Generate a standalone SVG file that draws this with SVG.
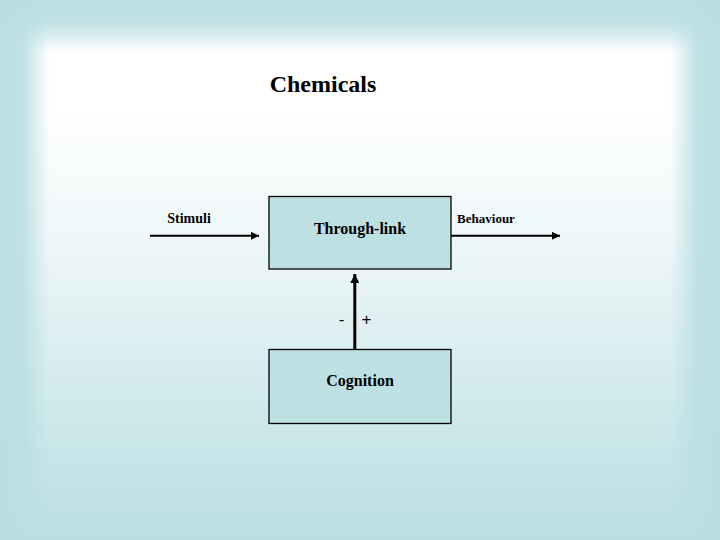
<svg xmlns="http://www.w3.org/2000/svg" width="720" height="540" viewBox="0 0 720 540">
  <defs>
    <linearGradient id="bgV" x1="0" y1="0" x2="0" y2="540" gradientUnits="userSpaceOnUse">
      <stop offset="0" stop-color="#ffffff"/>
      <stop offset="0.2" stop-color="#ffffff"/>
      <stop offset="0.45" stop-color="#eef7f8"/>
      <stop offset="0.8" stop-color="#cbe7ea"/>
      <stop offset="1" stop-color="#badee2"/>
    </linearGradient>
    <linearGradient id="bgL" x1="0" y1="0" x2="50" y2="0" gradientUnits="userSpaceOnUse">
      <stop offset="0" stop-color="#badee2" stop-opacity="1"/>
      <stop offset="0.45" stop-color="#badee2" stop-opacity="0.9"/>
      <stop offset="1" stop-color="#badee2" stop-opacity="0"/>
    </linearGradient>
    <linearGradient id="bgR" x1="720" y1="0" x2="670" y2="0" gradientUnits="userSpaceOnUse">
      <stop offset="0" stop-color="#badee2" stop-opacity="1"/>
      <stop offset="0.45" stop-color="#badee2" stop-opacity="0.9"/>
      <stop offset="1" stop-color="#badee2" stop-opacity="0"/>
    </linearGradient>
    <linearGradient id="bgT" x1="0" y1="0" x2="0" y2="52" gradientUnits="userSpaceOnUse">
      <stop offset="0" stop-color="#badee2" stop-opacity="1"/>
      <stop offset="0.45" stop-color="#badee2" stop-opacity="0.9"/>
      <stop offset="1" stop-color="#badee2" stop-opacity="0"/>
    </linearGradient>
    <marker id="ah" viewBox="0 0 10 10" refX="10" refY="5" markerWidth="4" markerHeight="4" orient="auto" markerUnits="strokeWidth">
      <path d="M0,0 L10,5 L0,10 z" fill="#000"/>
    </marker>
    <marker id="ahV" viewBox="0 0 10 10" refX="10" refY="5" markerWidth="3" markerHeight="3" orient="auto" markerUnits="strokeWidth">
      <path d="M0,0 L10,5 L0,10 z" fill="#000"/>
    </marker>
  </defs>
  <style>
    .box { fill: #bde0e3; stroke: #000; stroke-width: 1.3; }
    .lbl { font-family: "Liberation Serif", "Times New Roman", serif; font-weight: bold; fill: #000; }
    .sign { font-family: "Liberation Sans", Arial, sans-serif; font-size: 17px; fill: #000; }
    .conn { stroke: #000; fill: none; }
  </style>

  <rect x="0" y="0" width="720" height="540" fill="url(#bgV)"/>
  <rect x="0" y="0" width="50" height="540" fill="url(#bgL)"/>
  <rect x="670" y="0" width="50" height="540" fill="url(#bgR)"/>
  <rect x="0" y="0" width="720" height="52" fill="url(#bgT)"/>

  <g id="title">
    <text class="lbl" x="323" y="92" font-size="24" text-anchor="middle">Chemicals</text>
  </g>

  <g id="through-link">
    <rect class="box" x="269" y="196.5" width="182" height="72.5"/>
    <text class="lbl" x="360" y="234" font-size="16" text-anchor="middle">Through-link</text>
  </g>

  <g id="cognition">
    <rect class="box" x="269" y="349.5" width="182" height="74"/>
    <text class="lbl" x="360" y="386" font-size="16" text-anchor="middle">Cognition</text>
  </g>

  <g id="connectors">
    <line class="conn" x1="150" y1="235.8" x2="259" y2="235.8" stroke-width="2" marker-end="url(#ah)"/>
    <text class="lbl" x="189" y="223" font-size="14" text-anchor="middle">Stimuli</text>
    <line class="conn" x1="451" y1="235.8" x2="560" y2="235.8" stroke-width="2" marker-end="url(#ah)"/>
    <text class="lbl" x="486" y="223" font-size="13" text-anchor="middle">Behaviour</text>
    <line class="conn" x1="354.8" y1="349.5" x2="354.8" y2="274" stroke-width="3" marker-end="url(#ahV)"/>
    <text class="sign" x="341.5" y="325" text-anchor="middle">-</text>
    <text class="sign" x="366.5" y="325" text-anchor="middle">+</text>
  </g>
</svg>
